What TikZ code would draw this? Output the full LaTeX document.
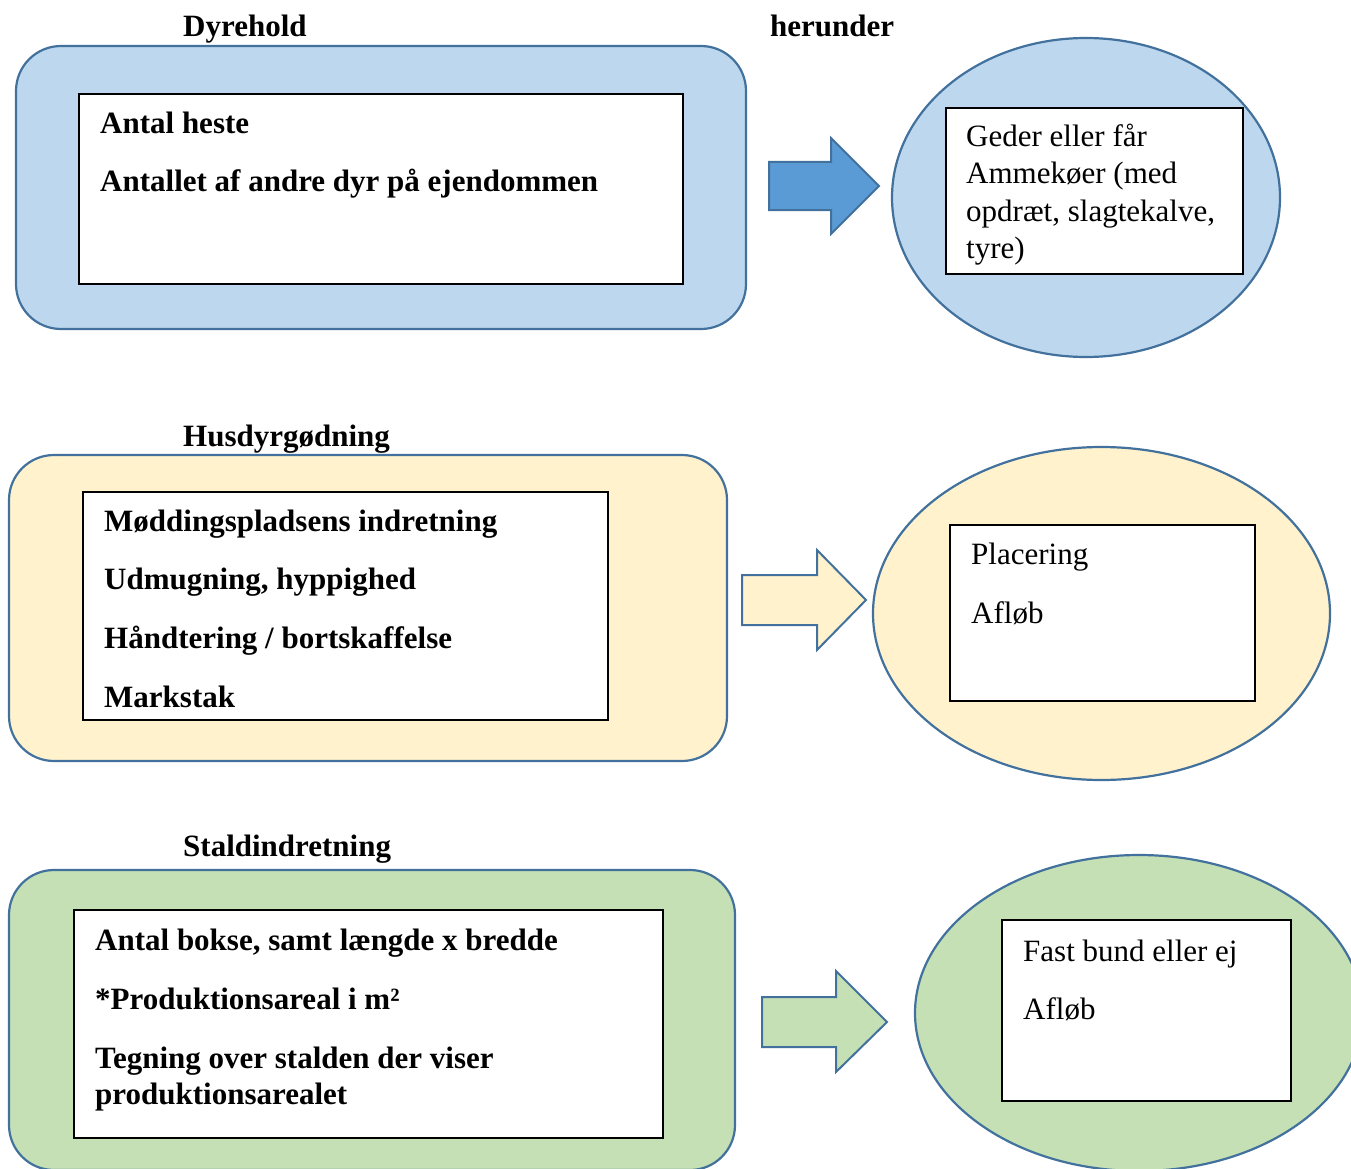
\documentclass[tikz,border=0pt]{standalone}
\usepackage{fontspec}
\setmainfont{Liberation Serif}
\begin{document}
\begin{tikzpicture}[x=1pt,y=-1pt,
  outer/.style={draw=edgeblue,line width=2.2pt,rounded corners=45pt},
  inner/.style={draw=black,line width=1.6pt,fill=white},
  oval/.style={draw=edgeblue,line width=2.2pt},
  blockarrow/.style={draw=edgeblue,line width=2pt},
  title/.style={anchor=base west,inner sep=0pt,font=\fontsize{31}{36}\selectfont\bfseries},
  bitem/.style={anchor=base west,inner sep=0pt,font=\fontsize{31}{36}\selectfont\bfseries},
  item/.style={anchor=base west,inner sep=0pt,font=\fontsize{31}{36}\selectfont}]
\definecolor{edgeblue}{HTML}{41719C}
\definecolor{fillblue}{HTML}{BDD7EE}
\definecolor{arrowblue}{HTML}{5B9BD5}
\definecolor{fillyellow}{HTML}{FFF2CC}
\definecolor{fillgreen}{HTML}{C5E0B4}
\useasboundingbox (0,0) rectangle (1351,1169);
% ---------- row 1
\node[title] (t1) at (183,37) {Dyrehold};
\node[title] (t1b) at (770,37) {herunder};
\draw[outer,fill=fillblue] (16,46) rectangle (746,329);
\draw[inner] (79,94) rectangle (683,284);
\node[bitem] (a1) at (100,134) {Antal heste};
\node[bitem] (a2) at (100,192) {Antallet af andre dyr på ejendommen};
\draw[blockarrow,fill=arrowblue] (769,162) -- (831,162) -- (831,138) -- (879,186) -- (831,234) -- (831,210) -- (769,210) -- cycle;
\draw[oval,fill=fillblue] (1086,197.5) ellipse [x radius=194,y radius=159.5];
\draw[inner] (946,108) rectangle (1243,274);
\node[item] (g1) at (966,147) {Geder eller får};
\node[item] (g2) at (966,184) {Ammekøer (med};
\node[item] (g3) at (966,221) {opdræt, slagtekalve,};
\node[item] (g4) at (966,258) {tyre)};
% ---------- row 2
\node[title] (t2) at (183,446) {Husdyrgødning};
\draw[outer,fill=fillyellow] (9,455) rectangle (727,761);
\draw[inner] (83,492) rectangle (608,720);
\node[bitem] (b1) at (104,531) {Møddingspladsens indretning};
\node[bitem] (b2) at (104,589) {Udmugning, hyppighed};
\node[bitem] (b3) at (104,648) {Håndtering / bortskaffelse};
\node[bitem] (b4) at (104,707) {Markstak};
\draw[blockarrow,fill=fillyellow] (742,575) -- (817,575) -- (817,550) -- (866,600) -- (817,650) -- (817,625) -- (742,625) -- cycle;
\draw[oval,fill=fillyellow] (1101.5,613.5) ellipse [x radius=228.5,y radius=166.5];
\draw[inner] (950,525) rectangle (1255,701);
\node[item] (p1) at (971,564) {Placering};
\node[item] (p2) at (971,623) {Afløb};
% ---------- row 3
\node[title] (t3) at (183,856) {Staldindretning};
\draw[outer,fill=fillgreen] (9,870) rectangle (735,1170);
\draw[inner] (74,910) rectangle (663,1138);
\node[bitem] (c1) at (95,950) {Antal bokse, samt længde x bredde};
\node[bitem] (c2) at (95,1009) {*Produktionsareal i m²};
\node[bitem] (c3) at (95,1068) {Tegning over stalden der viser};
\node[bitem] (c4) at (95,1104) {produktionsarealet};
\draw[blockarrow,fill=fillgreen] (762,997) -- (836,997) -- (836,971) -- (887,1022) -- (836,1072) -- (836,1047) -- (762,1047) -- cycle;
\draw[oval,fill=fillgreen] (1139,1013) ellipse [x radius=224,y radius=158];
\draw[inner] (1002,920) rectangle (1291,1101);
\node[item] (f1) at (1023,961) {Fast bund eller ej};
\node[item] (f2) at (1023,1019) {Afløb};
\end{tikzpicture}
\end{document}
